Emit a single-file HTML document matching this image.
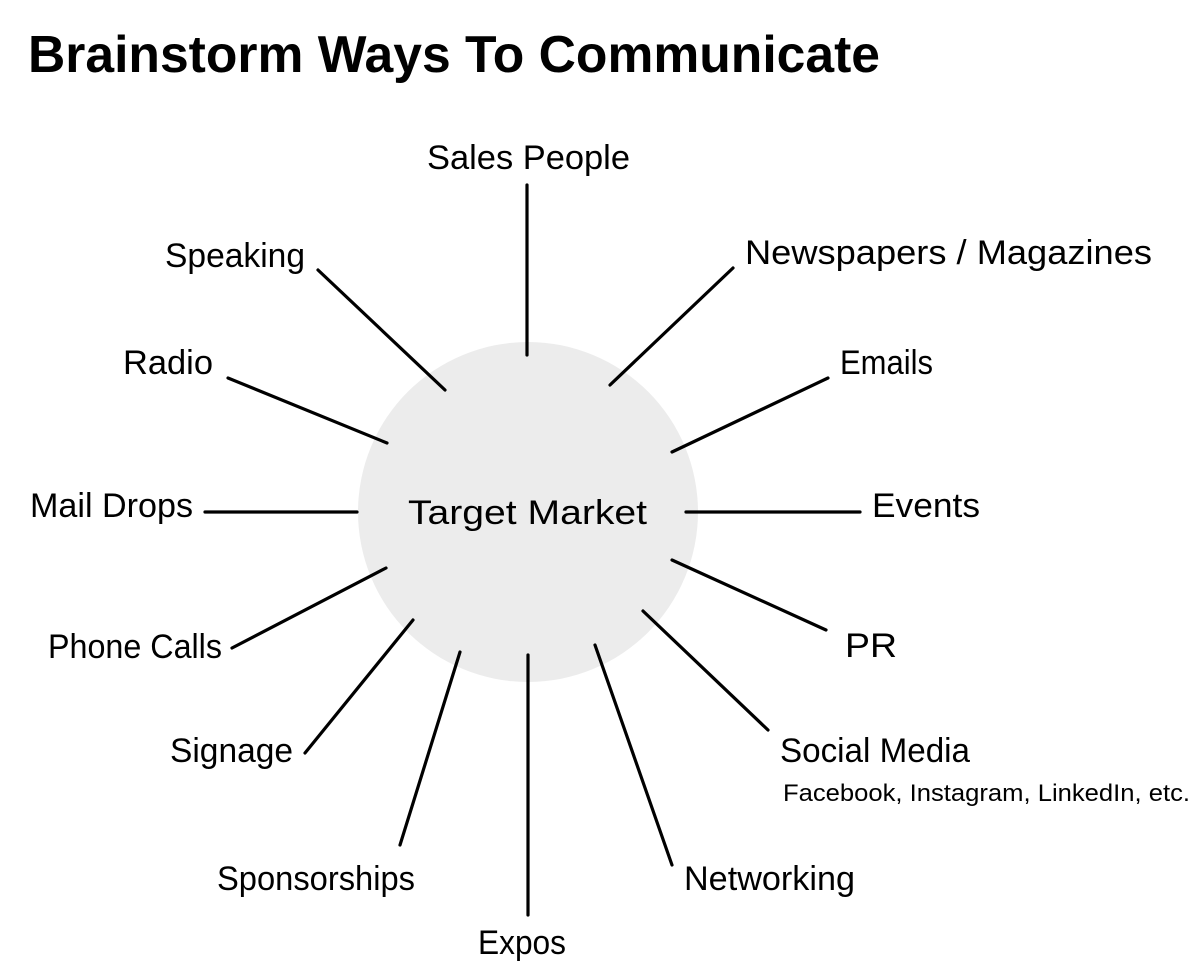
<!DOCTYPE html>
<html><head><meta charset="utf-8"><style>
html,body{margin:0;padding:0;background:#fff;}
svg{display:block}
text{font-family:"Liberation Sans",sans-serif;fill:#000;}
</style></head><body>
<svg width="1200" height="980" viewBox="0 0 1200 980" xmlns="http://www.w3.org/2000/svg">
<circle cx="528" cy="512" r="170" fill="#ececec"/>
<g stroke="#000" stroke-width="3.2" stroke-linecap="round">
<line x1="527" y1="185" x2="527" y2="355"/>
<line x1="733" y1="268" x2="610" y2="385"/>
<line x1="828" y1="378" x2="672" y2="452"/>
<line x1="860" y1="512" x2="686" y2="512"/>
<line x1="826" y1="630" x2="672" y2="560"/>
<line x1="768" y1="730" x2="643" y2="611"/>
<line x1="672" y1="865" x2="595" y2="645"/>
<line x1="528" y1="915" x2="528" y2="655"/>
<line x1="400" y1="845" x2="460" y2="652"/>
<line x1="305" y1="753" x2="413" y2="620"/>
<line x1="232" y1="648" x2="386" y2="568"/>
<line x1="205" y1="512" x2="357" y2="512"/>
<line x1="228" y1="378" x2="387" y2="443"/>
<line x1="318" y1="270" x2="445" y2="390"/>
</g>
<g lengthAdjust="spacingAndGlyphs">
<text x="28" y="72" font-size="52" font-weight="bold" textLength="852" lengthAdjust="spacingAndGlyphs">Brainstorm Ways To Communicate</text>
<text x="427" y="169" font-size="34" textLength="203" lengthAdjust="spacingAndGlyphs">Sales People</text>
<text x="165" y="267" font-size="34" textLength="140" lengthAdjust="spacingAndGlyphs">Speaking</text>
<text x="745" y="264" font-size="34" textLength="407" lengthAdjust="spacingAndGlyphs">Newspapers / Magazines</text>
<text x="123" y="374" font-size="34" textLength="90" lengthAdjust="spacingAndGlyphs">Radio</text>
<text x="840" y="374" font-size="34" textLength="93" lengthAdjust="spacingAndGlyphs">Emails</text>
<text x="30" y="517" font-size="34" textLength="163" lengthAdjust="spacingAndGlyphs">Mail Drops</text>
<text x="408" y="524" font-size="34" textLength="239" lengthAdjust="spacingAndGlyphs">Target Market</text>
<text x="872" y="517" font-size="34" textLength="108" lengthAdjust="spacingAndGlyphs">Events</text>
<text x="48" y="658" font-size="34" textLength="174" lengthAdjust="spacingAndGlyphs">Phone Calls</text>
<text x="845" y="657" font-size="34" textLength="52" lengthAdjust="spacingAndGlyphs">PR</text>
<text x="780" y="762" font-size="34" textLength="190" lengthAdjust="spacingAndGlyphs">Social Media</text>
<text x="783" y="801" font-size="24" textLength="407" lengthAdjust="spacingAndGlyphs">Facebook, Instagram, LinkedIn, etc.</text>
<text x="170" y="762" font-size="34" textLength="123" lengthAdjust="spacingAndGlyphs">Signage</text>
<text x="217" y="890" font-size="34" textLength="198" lengthAdjust="spacingAndGlyphs">Sponsorships</text>
<text x="684" y="890" font-size="34" textLength="171" lengthAdjust="spacingAndGlyphs">Networking</text>
<text x="478" y="954" font-size="34" textLength="88" lengthAdjust="spacingAndGlyphs">Expos</text>
</g>
</svg>
</body></html>
